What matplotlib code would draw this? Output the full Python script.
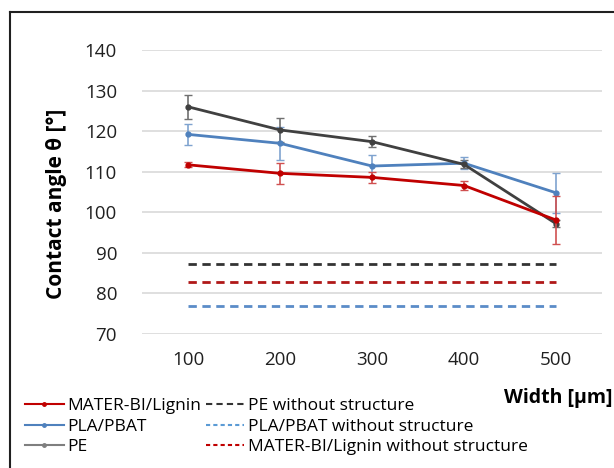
import matplotlib.pyplot as plt
from matplotlib.lines import Line2D
import numpy as np

plt.rcParams['font.family'] = ['Open Sans', 'DejaVu Sans']

# data
widths = ['100', '200', '300', '400', '500']
mater = [111.7, 109.6, 108.6, 106.6, 98.1]
mater_err = [0.6, 2.6, 1.3, 1.2, 6.0]
pla = [119.2, 117.0, 111.4, 112.1, 104.8]
pla_err = [2.6, 4.0, 2.6, 1.5, 5.0]
pe = [126.0, 120.3, 117.4, 111.8, 97.2]
pe_err = [3.0, 3.0, 1.3, 1.0, 0.8]

pe_flat = 87.3
pla_flat = 76.9
mater_flat = 82.9

red = '#C00000'
blue = '#4F81BD'
grey = '#404040'
dash = (0, (3, 2))

fig = plt.figure(figsize=(6.14, 4.68), dpi=100)
ax = fig.add_axes([0.2313, 0.2863, 0.7492, 0.6069])
x = np.arange(len(widths))

ax.errorbar(x, mater, yerr=mater_err, color=red, lw=2, marker='o', ms=3.5,
            ecolor='#D05050', elinewidth=1.2, capsize=3, zorder=4)
ax.errorbar(x, pla, yerr=pla_err, color=blue, lw=2, marker='o', ms=3.5,
            ecolor='#7FA3CF', elinewidth=1.2, capsize=3, zorder=3)
ax.errorbar(x, pe, yerr=pe_err, color=grey, lw=2, marker='o', ms=3.5,
            ecolor='#707070', elinewidth=1.2, capsize=3, zorder=3)

ax.plot(x, [pe_flat] * len(x), color='#333333', lw=2, ls=dash)
ax.plot(x, [pla_flat] * len(x), color='#5B8CC8', lw=2, ls=dash)
ax.plot(x, [mater_flat] * len(x), color='#B01818', lw=2, ls=dash)

ax.set_xlim(-0.5, 4.5)
ax.set_ylim(70, 140)
ax.set_yticks(np.arange(70, 141, 10))
ax.set_xticks(x)
ax.set_xticklabels(widths)
ax.grid(axis='y', color='#d9d9d9', lw=1.2)
ax.set_axisbelow(True)
for s in ax.spines.values():
    s.set_visible(False)
ax.tick_params(length=0, labelsize=13.5, colors='#202020')
ax.tick_params(axis='x', pad=12)
ax.tick_params(axis='y', pad=18)
ax.set_ylabel('Contact angle θ [°]', fontsize=15, fontweight='bold')
ax.yaxis.set_label_coords(-0.163, 0.458)

fig.text(0.997, 1 - 398 / 468, 'Width [µm]', fontsize=14, fontweight='bold', ha='right', va='center')

handles = [
    Line2D([], [], color=red, lw=1.5, marker='o', ms=2.5),
    Line2D([], [], color=blue, lw=1.5, marker='o', ms=2.5),
    Line2D([], [], color='#7f7f7f', lw=1.5, marker='o', ms=2.5),
    Line2D([], [], color='#333333', lw=1.5, ls=dash),
    Line2D([], [], color='#5B9BD5', lw=1.5, ls=(0, (2, 1.5))),
    Line2D([], [], color='#C00000', lw=1.5, ls=(0, (2, 1.5))),
]
labels = ['MATER-BI/Lignin', 'PLA/PBAT', 'PE', 'PE without structure',
          'PLA/PBAT without structure', 'MATER-BI/Lignin without structure']
fig.legend(handles, labels, loc='upper left', bbox_to_anchor=(0.03, 1 - 391 / 468), ncol=2,
           frameon=False, fontsize=12.5, handlelength=2.2, handletextpad=0.2, columnspacing=0.3,
           labelspacing=0.25, borderaxespad=0)

# outer border (left and top only visible)
fig.add_artist(Line2D([10 / 614, 10 / 614], [0, 1 - 12 / 468], color='#202020', lw=1.5))
fig.add_artist(Line2D([10 / 614, 1], [1 - 12 / 468, 1 - 12 / 468], color='#202020', lw=1.5))

fig.savefig('out.png', dpi=100)
